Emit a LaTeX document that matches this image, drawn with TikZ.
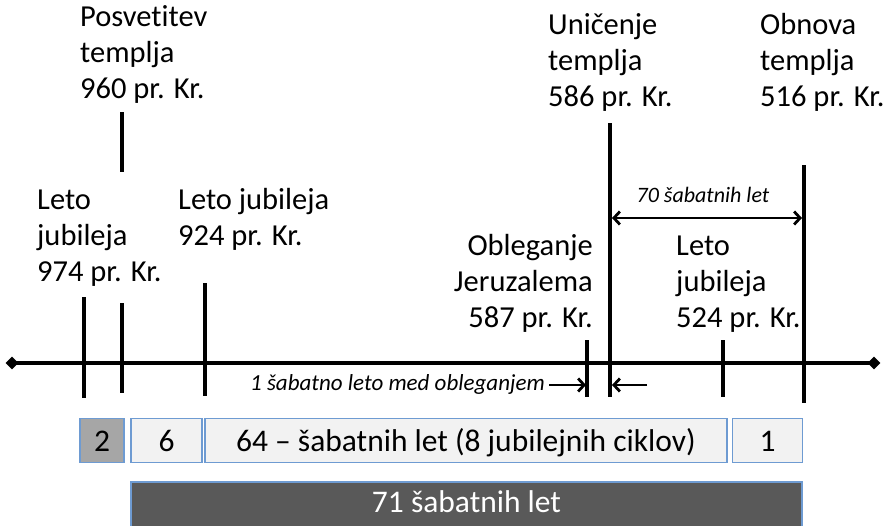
\documentclass[tikz,border=0pt]{standalone}
\usepackage{fontspec}
\setmainfont{Carlito}[Ligatures=NoCommon]
\usetikzlibrary{arrows.meta,shapes.geometric}
\definecolor{boxline}{RGB}{110,155,210}
\definecolor{boxfill}{RGB}{242,242,242}
\definecolor{greyfill}{RGB}{166,166,166}
\definecolor{darkfill}{RGB}{89,89,89}
\begin{document}
\begin{tikzpicture}[x=1pt,y=-1pt,
  lbl/.style={font=\fontsize{30.5}{36}\selectfont, inner sep=0pt, align=left},
  lblr/.style={font=\fontsize{30.5}{36}\selectfont, inner sep=0pt, align=right},
  note/.style={font=\fontsize{22}{26}\selectfont\itshape, inner sep=0pt},
  tick/.style={line width=4pt},
  tl/.style={line width=3.8pt},
  endmark/.style={diamond, fill=black, inner sep=0pt, minimum width=13pt, minimum height=13pt},
  ptr/.style={line width=2.8pt, -{Straight Barb[length=6pt, width=13pt, line width=2.8pt]}},
  span/.style={line width=2.8pt, {Straight Barb[length=6pt, width=13pt, line width=2.8pt]}-{Straight Barb[length=6pt, width=13pt, line width=2.8pt]}},
  yearbox/.style={draw=boxline, line width=1.2pt, fill=boxfill, inner sep=0pt, font=\fontsize{31.5}{36}\selectfont, minimum height=44pt, text height=26pt, text depth=5pt},
]
\useasboundingbox (0,0) rectangle (893,525);

% timeline
\node[endmark] (lend) at (12,363) {};
\node[endmark] (rend) at (874,363) {};
\draw[tl] (lend.center) -- (rend.center);

% ticks
\coordinate (t1a) at (84,297);  \coordinate (t1b) at (84,398);
\coordinate (t2a) at (122,303); \coordinate (t2b) at (122,393);
\coordinate (t2c) at (122,112); \coordinate (t2d) at (122,172);
\coordinate (t3a) at (205,283); \coordinate (t3b) at (205,396);
\coordinate (t4a) at (587,340); \coordinate (t4b) at (587,397);
\coordinate (t5a) at (610,123); \coordinate (t5b) at (610,397);
\coordinate (t6a) at (723,340); \coordinate (t6b) at (723,397);
\coordinate (t7a) at (804,165); \coordinate (t7b) at (804,403);
\foreach \a/\b in {t1a/t1b,t2a/t2b,t2c/t2d,t3a/t3b,t4a/t4b,t5a/t5b,t6a/t6b,t7a/t7b}
  \draw[tick] (\a) -- (\b);

% labels (base anchor = baseline of the last line)
\node[lbl, anchor=base west] (posv) at (80,98) {Posvetitev\\templja\\960 pr. Kr.};
\node[lbl, anchor=base west] (unic) at (548,106) {Uničenje\\templja\\586 pr. Kr.};
\node[lbl, anchor=base west] (obno) at (760,106) {Obnova\\templja\\516 pr. Kr.};
\node[lbl, anchor=base west] (lj974) at (37,281) {Leto\\jubileja\\974 pr. Kr.};
\node[lbl, anchor=base west] (lj924) at (178,245) {Leto jubileja\\924 pr. Kr.};
\node[lblr, anchor=base east] (obleg) at (593,327) {Obleganje\\Jeruzalema\\587 pr. Kr.};
\node[lbl, anchor=base west] (lj524) at (676,327) {Leto\\jubileja\\524 pr. Kr.};

% 70 years span
\coordinate (s70l) at (612,218);
\coordinate (s70r) at (802,218);
\draw[span] (s70l) -- (s70r);
\node[note, anchor=base] (n70) at (703,202) {70 šabatnih let};

% siege note and arrows
\node[note, anchor=base east, font=\fontsize{23}{27}\selectfont\itshape] (nsiege) at (545,390) {1 šabatno leto med obleganjem};
\coordinate (p1a) at (549,385); \coordinate (p1b) at (586,385);
\coordinate (p2a) at (647,385); \coordinate (p2b) at (612,385);
\draw[ptr] (p1a) -- (p1b);
\draw[ptr] (p2a) -- (p2b);

% boxes
\node[yearbox, fill=greyfill, minimum width=44pt] (b2) at (102,440.5) {2};
\node[yearbox, minimum width=71pt] (b6) at (166.5,440.5) {6};
\node[yearbox, minimum width=522pt] (b64) at (466,440.5) {64 – šabatnih let (8 jubilejnih ciklov)};
\node[yearbox, minimum width=70pt] (b1) at (767.5,440.5) {1};
\node[yearbox, fill=darkfill, text=white, minimum width=671pt, minimum height=46pt, text height=22pt, text depth=7pt] (b71) at (466.5,505) {71 šabatnih let};
\end{tikzpicture}
\end{document}
